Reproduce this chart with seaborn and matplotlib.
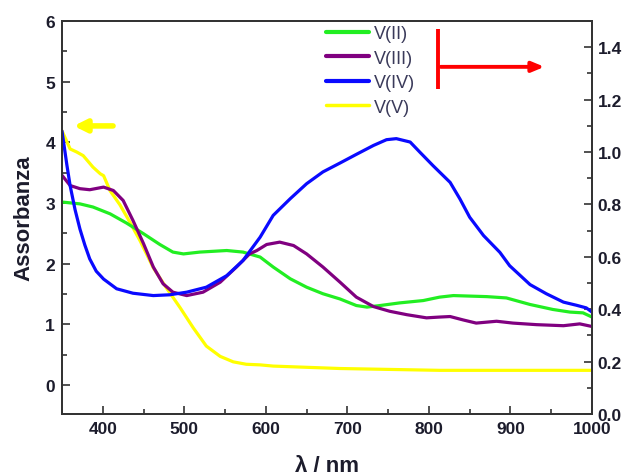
import matplotlib
matplotlib.use("Agg")
import matplotlib.pyplot as plt
import numpy as np
import pandas as pd
import seaborn as sns
from matplotlib.lines import Line2D
from matplotlib.ticker import MultipleLocator

# ---- data ----
wl_v2 = [350, 372, 388, 409, 429, 450, 470, 486, 499, 519, 552, 572, 593, 609, 630, 650, 670, 691,
         711, 724, 740, 764, 793, 813, 830, 871, 895, 924, 952, 973, 989, 1000]
abs_v2 = [0.809, 0.802, 0.790, 0.764, 0.729, 0.688, 0.647, 0.618, 0.611, 0.618, 0.624, 0.618, 0.599,
          0.561, 0.516, 0.484, 0.459, 0.439, 0.414, 0.408, 0.414, 0.424, 0.433, 0.446, 0.452, 0.448,
          0.443, 0.418, 0.399, 0.389, 0.386, 0.370]

wl_v3 = [350, 360, 372, 384, 401, 413, 425, 437, 450, 462, 474, 486, 503, 523, 544, 564, 580, 589,
         601, 617, 634, 650, 670, 691, 711, 732, 752, 773, 797, 813, 826, 842, 858, 883, 903, 932,
         965, 985, 1000]
abs_v3 = [0.911, 0.872, 0.860, 0.856, 0.866, 0.853, 0.815, 0.739, 0.650, 0.561, 0.497, 0.465, 0.452,
          0.465, 0.503, 0.561, 0.611, 0.624, 0.647, 0.656, 0.643, 0.611, 0.561, 0.503, 0.446, 0.410,
          0.392, 0.379, 0.367, 0.370, 0.372, 0.359, 0.347, 0.354, 0.347, 0.341, 0.337, 0.344, 0.334]

wl_v4 = [350, 356, 360, 366, 372, 378, 384, 392, 401, 417, 437, 462, 482, 503, 527, 552, 572, 593,
         609, 630, 650, 670, 691, 711, 732, 748, 760, 777, 789, 805, 826, 838, 850, 867, 887, 899,
         924, 944, 965, 981, 993, 1000]
abs_v4 = [1.080, 0.950, 0.871, 0.780, 0.706, 0.645, 0.592, 0.545, 0.515, 0.478, 0.461, 0.452,
          0.455, 0.465, 0.484, 0.528, 0.586, 0.675, 0.758, 0.822, 0.879, 0.924, 0.958, 0.991, 1.025,
          1.047, 1.051, 1.038, 0.999, 0.948, 0.884, 0.821, 0.751, 0.681, 0.617, 0.566, 0.494, 0.459,
          0.427, 0.415, 0.405, 0.389]

wl_v5 = [350, 360, 368, 376, 388, 397, 401, 409, 421, 433, 446, 462, 478, 495, 511, 527, 544, 560,
         576, 593, 609, 691, 813, 1000]
abs_v5 = [4.19, 3.89, 3.84, 3.78, 3.59, 3.48, 3.45, 3.20, 2.97, 2.69, 2.37, 1.93, 1.60, 1.27, 0.94,
          0.64, 0.47, 0.38, 0.34, 0.33, 0.31, 0.27, 0.24, 0.24]

labels = ["V(II)", "V(III)", "V(IV)", "V(V)"]
colors = ["#22ee22", "#800080", "#0a0aff", "#ffff00"]

x_ticks = [400, 500, 600, 700, 800, 900, 1000]
yl_ticks = [0, 1, 2, 3, 4, 5, 6]
yr_ticks = [0.0, 0.2, 0.4, 0.6, 0.8, 1.0, 1.2, 1.4]

# ---- style ----
sns.set_theme(style="white")
plt.rcParams["font.family"] = ["Liberation Sans", "DejaVu Sans"]
dark = "#1c1c2c"

fig = plt.figure(figsize=(6.3, 4.77), dpi=100)
ax = fig.add_axes([62 / 630, 62 / 477, 530 / 630, 393 / 477])
ax2 = ax.twinx()

lw = 2.3
sns.lineplot(x=wl_v2, y=abs_v2, ax=ax2, color=colors[0], linewidth=lw, sort=False, estimator=None)
sns.lineplot(x=wl_v3, y=abs_v3, ax=ax2, color=colors[1], linewidth=lw, sort=False, estimator=None)
sns.lineplot(x=wl_v4, y=abs_v4, ax=ax2, color=colors[2], linewidth=lw, sort=False, estimator=None)
sns.lineplot(x=wl_v5, y=abs_v5, ax=ax, color=colors[3], linewidth=lw, sort=False, estimator=None)

ax.set_xlim(350, 1000)
ax.set_ylim(-0.48, 6.0)
ax2.set_ylim(0, 1.5)

ax.set_xticks(x_ticks)
ax.set_yticks(yl_ticks)
ax2.set_yticks(yr_ticks)
ax2.set_yticklabels([f"{v:.1f}" for v in yr_ticks])
ax.xaxis.set_minor_locator(MultipleLocator(50))
ax.yaxis.set_minor_locator(MultipleLocator(0.5))
ax2.yaxis.set_minor_locator(MultipleLocator(0.1))

for a in (ax, ax2):
    for s in a.spines.values():
        s.set_color("#333333")
        s.set_linewidth(1.3)
ax.tick_params(axis="both", which="both", direction="in", bottom=True, left=True, top=False,
               right=False, colors="#333333", labelcolor=dark, width=1.2)
ax.tick_params(which="major", length=6, labelsize=12.5, pad=5)
ax.tick_params(which="minor", length=3.5)
ax2.tick_params(axis="y", which="both", direction="in", right=True, left=False,
                colors="#333333", labelcolor=dark, width=1.2)
ax2.tick_params(which="major", length=6, labelsize=12.5, pad=4)
ax2.tick_params(which="minor", length=3.5)
for t in ax.get_xticklabels() + ax.get_yticklabels() + ax2.get_yticklabels():
    t.set_fontweight("bold")

ax.set_xlabel("λ / nm", fontsize=16, fontweight="bold", color=dark, labelpad=14)
ax.set_ylabel("Assorbanza", fontsize=16, fontweight="bold", color=dark, labelpad=8)
ax2.set_ylabel("")

# legend
handles = [Line2D([], [], color=c, linewidth=3 if i < 3 else 2.5) for i, c in enumerate(colors)]
leg = ax2.legend(handles, labels, loc="upper left", bbox_to_anchor=(326 / 630, 1 - 26 / 477),
                 bbox_transform=fig.transFigure, frameon=False, fontsize=13,
                 handlelength=2.4, handletextpad=0.25, labelspacing=0.42, borderpad=0,
                 borderaxespad=0)
for t in leg.get_texts():
    t.set_color("#3a3a5a")

# axis indicators
ax.annotate("", xy=(361, 4.27), xytext=(416, 4.27),
            arrowprops=dict(arrowstyle="-|>,head_length=0.6,head_width=0.3", color="#ffff00", lw=4))
ax2.plot([811, 811], [1.24, 1.47], color="#ff0000", lw=2.8, solid_capstyle="butt")
ax2.annotate("", xy=(945, 1.325), xytext=(811, 1.325),
             arrowprops=dict(arrowstyle="-|>,head_length=0.6,head_width=0.25", color="#ff0000", lw=2.8))

fig.savefig("out.png", dpi=100)
